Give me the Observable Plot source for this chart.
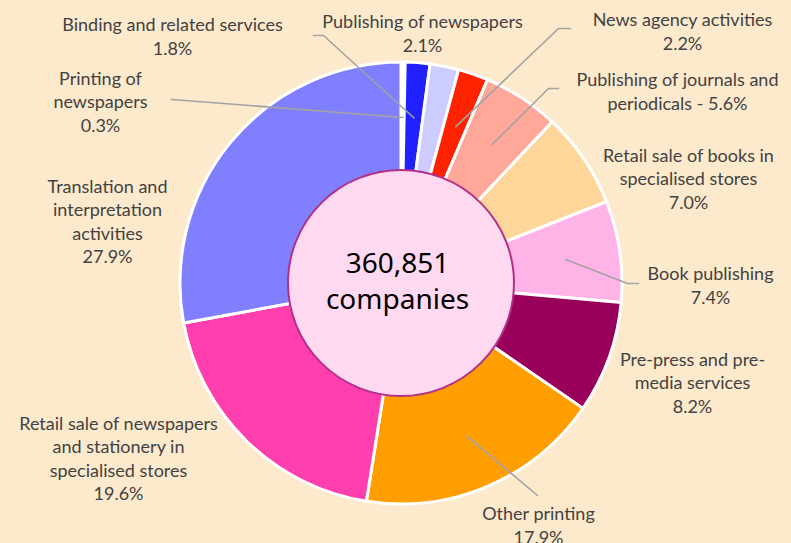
<!DOCTYPE html>
<html>
<head>
<meta charset="utf-8">
<script src="https://cdn.jsdelivr.net/npm/d3@7"></script>
<script src="https://cdn.jsdelivr.net/npm/@observablehq/plot@0.6"></script>
<style>
  html, body { margin: 0; padding: 0; background: #fde9cc; }
  #chart svg { display: block; }
</style>
</head>
<body>
<div id="chart"></div>
<script>
// ---- Data ----
const categories = [
  "Printing of newspapers",
  "Binding and related services",
  "Publishing of newspapers",
  "News agency activities",
  "Publishing of journals and periodicals",
  "Retail sale of books in specialised stores",
  "Book publishing",
  "Pre-press and pre-media services",
  "Other printing",
  "Retail sale of newspapers and stationery in specialised stores",
  "Translation and interpretation activities"
];
const shares = [0.3, 1.8, 2.1, 2.2, 5.6, 7.0, 7.4, 8.2, 17.9, 19.6, 27.9];
const colors = ["#ffffff", "#2121ff", "#ccccff", "#ff2200", "#ffa899", "#ffd699",
                "#ffb3e6", "#99005a", "#ff9e00", "#ff3fae", "#8080ff"];
const totalCompanies = "360,851";
const centerUnit = "companies";

// ---- Layout (label wrapping and placement, in pixels of the 791x543 frame) ----
const labelText = [
  "Printing of\nnewspapers\n",
  "Binding and related services\n",
  "Publishing of newspapers\n",
  "News agency activities\n",
  "Publishing of journals and\nperiodicals - ",
  "Retail sale of books in\nspecialised stores\n",
  "Book publishing\n",
  "Pre-press and pre-\nmedia services\n",
  "Other printing\n",
  "Retail sale of newspapers\nand stationery in\nspecialised stores\n",
  "Translation and\ninterpretation\nactivities\n"
];
const labelPx = [[100,100],[172,35],[422,32],[682,30],[677,90],[688,177],[710,284],[692,381],[538,524],[118,457],[107,220]];
// leader elbows/ends (null = no leader)
const leaderPx = [
  [[171,99]],
  [[323,35],[313,35]],
  null,
  [[558,28],[570,28]],
  [[548,88],[558,88]],
  null,
  [[627,283],[638,283]],
  null,
  [[537,495]],
  null,
  null
];
const W = 791, H = 543, CX = 401, CY = 283, R = 221;
const innerR = 113 / R, leaderR = 166 / R;
const ux = px => (px - CX) / R, uy = py => (CY - py) / R;

// ---- Build ----
const arcs = d3.pie().sort(null).value(d => d)(shares);
const mid = arcs.map(a => (a.startAngle + a.endAngle) / 2);

const labels = categories.map((c, i) => ({
  name: c,
  text: labelText[i] + d3.format(".1f")(shares[i]) + "%",
  x: ux(labelPx[i][0]), y: uy(labelPx[i][1])
}));

const leaders = [];
categories.forEach((c, i) => {
  if (!leaderPx[i]) return;
  leaders.push({name: c, x: leaderR * Math.sin(mid[i]), y: leaderR * Math.cos(mid[i])});
  leaderPx[i].forEach(p => leaders.push({name: c, x: ux(p[0]), y: uy(p[1])}));
});

function donut(index, scales) {
  const cx = scales.x(0), cy = scales.y(0);
  const rr = scales.x(1) - scales.x(0);
  const g = d3.create("svg:g");
  const arc = d3.arc().innerRadius(rr * 0.4).outerRadius(rr);
  g.selectAll("path").data(arcs).join("path")
    .attr("transform", `translate(${cx},${cy})`)
    .attr("d", arc)
    .attr("fill", (d, i) => colors[i])
    .attr("stroke", "#ffffff")
    .attr("stroke-width", 3)
    .attr("stroke-linejoin", "round");
  g.append("circle")
    .attr("cx", cx).attr("cy", cy).attr("r", rr * innerR)
    .attr("fill", "#ffd9ef")
    .attr("stroke", "#b3308a")
    .attr("stroke-width", 2);
  return g.node();
}

const chart = Plot.plot({
  width: W, height: H, margin: 0,
  x: {domain: [ux(0), ux(W)], range: [0, W], axis: null},
  y: {domain: [uy(H), uy(0)], range: [H, 0], axis: null},
  style: {background: "#fde9cc", overflow: "visible"},
  marks: [
    donut,
    Plot.line(leaders, {x: "x", y: "y", z: "name", stroke: "#a3a3a3", strokeWidth: 1.6}),
    Plot.text(labels, {x: "x", y: "y", text: "text", fill: "#424242", fontSize: 18,
      lineHeight: 1.306, fontFamily: "Lato, 'Open Sans', sans-serif"}),
    Plot.text([totalCompanies + "\n" + centerUnit], {x: ux(397), y: uy(279), fill: "#000000",
      fontSize: 28, lineHeight: 1.29, fontFamily: "'Noto Sans', sans-serif"})
  ]
});
document.getElementById("chart").appendChild(chart);
</script>
</body>
</html>
